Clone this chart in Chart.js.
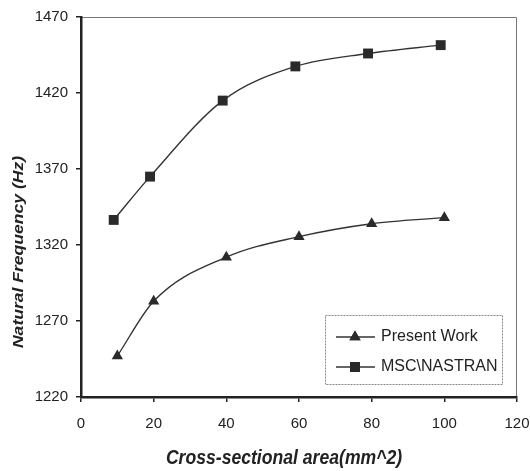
<!DOCTYPE html>
<html>
<head>
<meta charset="utf-8">
<script src="https://cdn.jsdelivr.net/npm/chart.js@4.4.1/dist/chart.umd.min.js"></script>
<style>
  body { margin: 0; background: #fff; }
  #wrap { width: 530px; height: 471px; position: relative; }
</style>
</head>
<body>
<div id="wrap"><canvas id="freq-chart"></canvas></div>
<script>
// cross-sectional area (mm^2) and natural frequency (Hz)
var presentArea = [10, 20, 40, 60, 80, 100];
var presentFreq = [1247, 1283, 1312, 1325.5, 1334, 1338];
var nastranArea = [9, 19, 39, 59, 79, 99];
var nastranFreq = [1336.5, 1365, 1415, 1437.5, 1446, 1451.5];
var xTicks = [0, 20, 40, 60, 80, 100, 120];
var yTicks = [1220, 1270, 1320, 1370, 1420, 1470];

var fontFam = '"Liberation Sans", Arial, sans-serif';
var ink = '#222';

function pts(xs, ys) {
	return xs.map(function(x, i) { return {x: x, y: ys[i]}; });
}

// thin gray top/right frame, drawn before the axes
var framePlugin = {
	id: 'frame',
	beforeDraw: function(chart) {
		var a = chart.chartArea, ctx = chart.ctx;
		ctx.save();
		ctx.strokeStyle = '#777';
		ctx.lineWidth = 1;
		ctx.beginPath();
		ctx.moveTo(a.left, a.top + 0.5);
		ctx.lineTo(a.right - 0.5, a.top + 0.5);
		ctx.lineTo(a.right - 0.5, a.bottom);
		ctx.stroke();
		ctx.restore();
	}
};

// axis titles (offset like the original, text a bit stretched) and boxed legend
var annotPlugin = {
	id: 'annot',
	afterDraw: function(chart) {
		var ctx = chart.ctx;
		ctx.save();
		ctx.fillStyle = ink;
		ctx.textAlign = 'center';
		ctx.textBaseline = 'middle';
		ctx.font = 'italic bold 20px ' + fontFam;
		ctx.translate(284, 458);
		ctx.scale(0.88, 1);
		ctx.fillText('Cross-sectional area(mm^2)', 0, 0);
		ctx.restore();

		ctx.save();
		ctx.fillStyle = ink;
		ctx.textAlign = 'center';
		ctx.textBaseline = 'middle';
		ctx.font = 'italic bold 15px ' + fontFam;
		ctx.translate(19, 252);
		ctx.rotate(-Math.PI / 2);
		ctx.scale(1.17, 1);
		ctx.fillText('Natural Frequency (Hz)', 0, 0);
		ctx.restore();

		// legend box
		ctx.save();
		ctx.strokeStyle = '#888';
		ctx.lineWidth = 1;
		ctx.setLineDash([2, 1]);
		ctx.strokeRect(325.5, 315.5, 177, 69);
		ctx.setLineDash([]);
		var rows = [337, 367];
		chart.data.datasets.forEach(function(ds, i) {
			var y = rows[i];
			ctx.strokeStyle = ds.borderColor;
			ctx.lineWidth = 1.3;
			ctx.beginPath();
			ctx.moveTo(336, y);
			ctx.lineTo(375, y);
			ctx.stroke();
			ctx.fillStyle = ds.pointBackgroundColor;
			Chart.helpers.drawPoint(ctx, {pointStyle: ds.pointStyle, radius: ds.pointRadius, borderWidth: 0, rotation: 0}, 355, y);
			ctx.fill();
			ctx.fillStyle = ink;
			ctx.font = '16px ' + fontFam;
			ctx.textAlign = 'left';
			ctx.textBaseline = 'middle';
			ctx.fillText(ds.label, 381, y);
		});
		ctx.restore();
	}
};

var ctx = document.getElementById('freq-chart');
var chart = new Chart(ctx, {
	type: 'line',
	data: {
		datasets: [
			{
				label: 'Present Work',
				data: pts(presentArea, presentFreq),
				borderColor: '#333',
				borderWidth: 1.4,
				pointStyle: 'triangle',
				pointRadius: 6.5,
				pointBackgroundColor: '#2a2a2a',
				pointBorderWidth: 0,
				cubicInterpolationMode: 'monotone',
				fill: false
			},
			{
				label: 'MSC\\NASTRAN',
				data: pts(nastranArea, nastranFreq),
				borderColor: '#333',
				borderWidth: 1.4,
				pointStyle: 'rect',
				pointRadius: 7,
				pointBackgroundColor: '#2a2a2a',
				pointBorderWidth: 0,
				cubicInterpolationMode: 'monotone',
				fill: false
			}
		]
	},
	options: {
		responsive: true,
		maintainAspectRatio: false,
		animation: false,
		layout: { padding: { left: 0, top: 17, right: 13, bottom: 0 } },
		plugins: {
			legend: { display: false },
			tooltip: { enabled: false }
		},
		scales: {
			x: {
				type: 'linear',
				min: xTicks[0],
				max: xTicks[xTicks.length - 1],
				afterBuildTicks: function(s) { s.ticks = xTicks.map(function(v) { return {value: v}; }); },
				afterFit: function(s) { s.height = 74; s.paddingRight = 0; s.paddingLeft = 0; },
				grid: { drawOnChartArea: false, drawTicks: true, tickLength: 5, color: ink, lineWidth: 1.5 },
				border: { display: true, color: ink, width: 2.5 },
				ticks: { color: ink, padding: 13, font: { family: fontFam, size: 15 }, callback: function(v) { return String(v); } }
			},
			y: {
				min: yTicks[0],
				max: yTicks[yTicks.length - 1],
				afterBuildTicks: function(s) { s.ticks = yTicks.map(function(v) { return {value: v}; }); },
				afterFit: function(s) { s.width = 81; s.paddingTop = 0; s.paddingBottom = 0; },
				grid: { drawOnChartArea: false, drawTicks: true, tickLength: 5, color: ink, lineWidth: 1.5 },
				border: { display: true, color: ink, width: 2.5 },
				ticks: { color: ink, padding: 8, font: { family: fontFam, size: 15 }, callback: function(v) { return String(v); } }
			}
		}
	},
	plugins: [framePlugin, annotPlugin]
});
</script>
</body>
</html>
